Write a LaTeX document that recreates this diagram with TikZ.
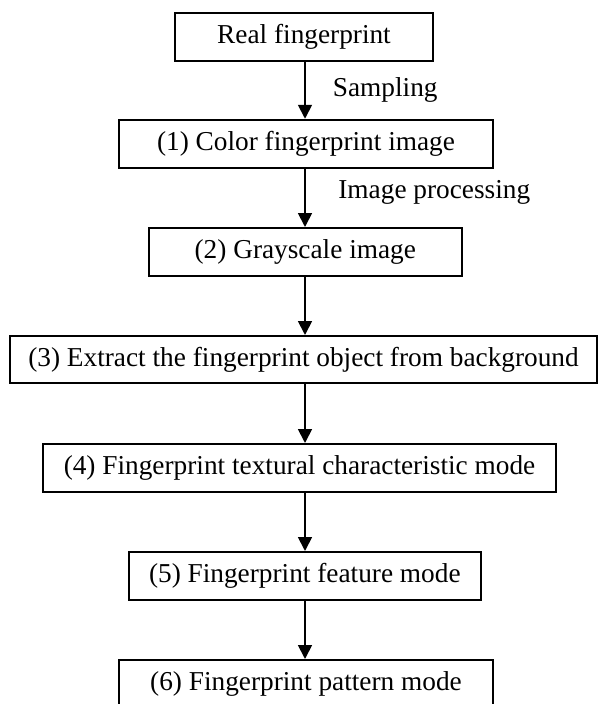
\documentclass[tikz,border=0pt]{standalone}
\usepackage{fontspec}
\setmainfont{Liberation Serif}
\usetikzlibrary{arrows.meta}

\tikzset{
  stage/.style={draw, line width=2pt, minimum height=48pt, inner sep=0pt,
                font=\fontsize{27.3}{32}\selectfont},
  flow/.style={line width=1.8pt, -{Triangle[length=14pt,width=14pt]}},
  lbl/.style={anchor=west, inner sep=0pt, font=\fontsize{27.3}{32}\selectfont}
}

\begin{document}
\begin{tikzpicture}[x=1pt, y=-1pt]
  \useasboundingbox (0,0) rectangle (598,704);

  % processing stages, top to bottom
  \node[stage, minimum width=258pt] (b0) at (304,36.5) {Real fingerprint};
  \node[stage, minimum width=374pt] (b1) at (306,143.75) {(1) Color fingerprint image};
  \node[stage, minimum width=313pt] (b2) at (305.3,252) {(2) Grayscale image};
  \node[stage, minimum width=587pt, minimum height=47pt] (b3) at (303.5,359.5) {(3) Extract the fingerprint object from background};
  \node[stage, minimum width=513pt] (b4) at (299.5,468) {(4) Fingerprint textural characteristic mode};
  \node[stage, minimum width=352.5pt] (b5) at (304.8,576) {(5) Fingerprint feature mode};
  \node[stage, minimum width=374pt] (b6) at (306,684) {(6) Fingerprint pattern mode};

  % vertical spine the arrows run along
  \coordinate (ax) at (305,0);

  \draw[flow] (b0.south -| ax) -- node[lbl, xshift=27pt] {Sampling} (b1.north -| ax);
  \draw[flow] (b1.south -| ax) -- node[lbl, xshift=32.5pt, yshift=5pt] {Image processing} (b2.north -| ax);
  \draw[flow] (b2.south -| ax) -- (b3.north -| ax);
  \draw[flow] (b3.south -| ax) -- (b4.north -| ax);
  \draw[flow] (b4.south -| ax) -- (b5.north -| ax);
  \draw[flow] (b5.south -| ax) -- (b6.north -| ax);
\end{tikzpicture}
\end{document}
